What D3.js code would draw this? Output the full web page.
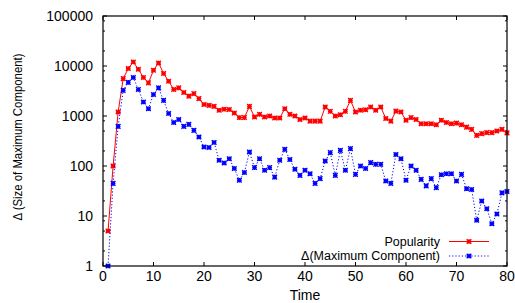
<!DOCTYPE html>
<html>
<head>
<meta charset="utf-8">
<script src="https://cdn.jsdelivr.net/npm/d3@7"></script>
<style>
  body { margin: 0; background: #fff; }
  text { font-family: "Liberation Sans", Arial, sans-serif; }
</style>
</head>
<body>
<div id="chart"></div>
<script>
const times = d3.range(1, 81)
const popularity = [5, 100, 1200, 5600, 8900, 12000, 8600, 5900, 4600, 8200,
  11500, 7100, 4950, 3400, 3650, 2950, 2500, 2800, 2230, 1700,
  1630, 1560, 1300, 1360, 1350, 1150, 930, 930, 1560, 955,
  1080, 955, 1000, 910, 910, 1400, 1080, 1000, 850, 910,
  790, 790, 790, 1510, 1240, 1000, 1060, 1240, 2050, 1200,
  1300, 1330, 1510, 1300, 1510, 890, 790, 1250, 1200, 820,
  930, 850, 700, 700, 700, 670, 820, 740, 700, 720,
  670, 600, 540, 410, 445, 465, 465, 500, 540, 460]
const maxComponent = [1, 45, 620, 3250, 4700, 5900, 3400, 1900, 1400, 2700,
  3650, 2050, 1120, 740, 850, 620, 680, 515, 380, 240,
  234, 295, 130, 115, 140, 89, 52, 74, 190, 93,
  140, 82, 93, 60, 130, 215, 135, 86, 65, 82,
  70, 45, 56, 126, 185, 65, 205, 82, 223, 68,
  100, 89, 117, 108, 108, 50, 45, 170, 140, 52,
  100, 82, 54, 40, 56, 37, 67, 70, 70, 50,
  68, 35, 34, 8.2, 20, 14, 7, 11, 29, 31]
const xTicks = [0, 10, 20, 30, 40, 50, 60, 70, 80]
const yTicks = [1, 10, 100, 1000, 10000, 100000]
const seriesNames = ['Popularity', '\u0394(Maximum Component)']

const width = 515, height = 303
const margin = ({top: 16, right: 8, bottom: 37, left: 103})
const visWidth = width - margin.left - margin.right
const visHeight = height - margin.top - margin.bottom

const series = [
  {name: seriesNames[0], values: times.map((t, i) => ({t: t, v: popularity[i]})), color: '#ff0000', dash: null},
  {name: seriesNames[1], values: times.map((t, i) => ({t: t, v: maxComponent[i]})), color: '#0000ff', dash: '1.2,2'}
]

const x = d3.scaleLinear().domain([0, 80]).range([0, visWidth])
const y = d3.scaleLog().domain([1, 100000]).range([visHeight, 0])

const svg = d3.select('#chart').append('svg')
    .attr('width', width)
    .attr('height', height)

const g = svg.append('g')
    .attr('transform', `translate(${margin.left}, ${margin.top})`)

// minor ticks at 2, 5, 8 of each decade
const minor = []
for (let d = 1; d < 100000; d *= 10) [2, 5, 8].forEach(m => minor.push(d * m))

const ticks = g.append('g').attr('stroke', '#000').attr('stroke-width', 1)
xTicks.forEach(t => {
  ticks.append('line').attr('x1', x(t)).attr('x2', x(t)).attr('y1', visHeight).attr('y2', visHeight - 4)
  ticks.append('line').attr('x1', x(t)).attr('x2', x(t)).attr('y1', 0).attr('y2', 4)
})
yTicks.forEach(t => {
  ticks.append('line').attr('x1', 0).attr('x2', 4).attr('y1', y(t)).attr('y2', y(t))
  ticks.append('line').attr('x1', visWidth).attr('x2', visWidth - 4).attr('y1', y(t)).attr('y2', y(t))
})
minor.forEach(t => {
  ticks.append('line').attr('x1', 0).attr('x2', 2).attr('y1', y(t)).attr('y2', y(t))
  ticks.append('line').attr('x1', visWidth).attr('x2', visWidth - 2).attr('y1', y(t)).attr('y2', y(t))
})

// tick labels
g.append('g').selectAll('text')
  .data(xTicks)
  .join('text')
    .attr('x', d => x(d))
    .attr('y', visHeight + 15)
    .attr('text-anchor', 'middle')
    .attr('font-size', 14)
    .text(d => d)

g.append('g').selectAll('text')
  .data(yTicks)
  .join('text')
    .attr('x', -10)
    .attr('y', d => y(d))
    .attr('dy', '0.35em')
    .attr('text-anchor', 'end')
    .attr('font-size', 14)
    .text(d => d)

// axis labels
g.append('text')
    .attr('x', visWidth / 2)
    .attr('y', visHeight + 34)
    .attr('text-anchor', 'middle')
    .attr('font-size', 14)
    .text('Time')

svg.append('text')
    .attr('transform', `translate(22, 137) rotate(-90)`)
    .attr('text-anchor', 'middle')
    .attr('font-size', 13)
    .attr('textLength', 167)
    .attr('lengthAdjust', 'spacingAndGlyphs')
    .text('\u0394 (Size of Maximum Component)')

const line = d3.line()
    .x(d => x(d.t))
    .y(d => y(d.v))

const star = (sel, r) => sel.append('path')
    .attr('d', `M${-r},0H${r}M0,${-r}V${r}M${-r},${-r}L${r},${r}M${-r},${r}L${r},${-r}`)

series.forEach(s => {
  g.append('path')
      .attr('d', line(s.values))
      .attr('fill', 'none')
      .attr('stroke', s.color)
      .attr('stroke-width', 1)
      .attr('stroke-dasharray', s.dash)

  g.append('g').selectAll('g')
    .data(s.values)
    .join('g')
      .attr('transform', d => `translate(${x(d.t)}, ${y(d.v)})`)
      .call(sel => star(sel, 2.3))
      .selectAll('path')
      .attr('stroke', s.color)
      .attr('stroke-width', 1.4)
})

// legend
const legend = g.append('g')
series.forEach((s, i) => {
  const ly = 225.5 + i * 14.5
  legend.append('text')
      .attr('x', 337)
      .attr('y', ly)
      .attr('dy', '0.35em')
      .attr('text-anchor', 'end')
      .attr('font-size', 12.5)
      .text(s.name)
  legend.append('line')
      .attr('x1', 346).attr('x2', 386)
      .attr('y1', ly).attr('y2', ly)
      .attr('stroke', s.color)
      .attr('stroke-width', 1)
      .attr('stroke-dasharray', s.dash)
  legend.append('g')
      .attr('transform', `translate(366, ${ly})`)
      .call(sel => star(sel, 2.3))
      .select('path')
      .attr('stroke', s.color)
      .attr('stroke-width', 1.4)
})

// frame
g.append('rect')
    .attr('width', visWidth)
    .attr('height', visHeight)
    .attr('fill', 'none')
    .attr('stroke', '#000')
    .attr('stroke-width', 1.2)
</script>
</body>
</html>
